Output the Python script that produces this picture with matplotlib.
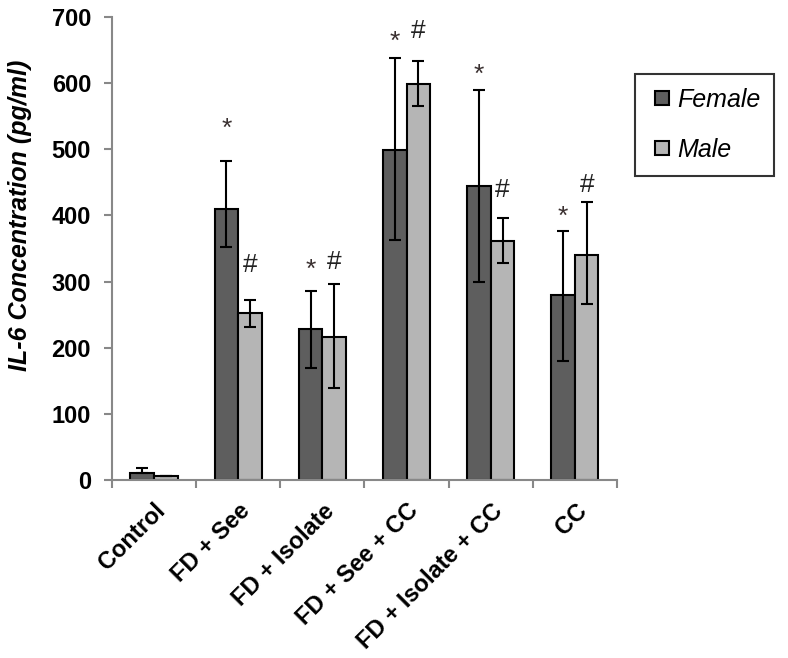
import numpy as np
from matplotlib import pyplot as plt
from matplotlib.lines import Line2D

plt.rcParams['font.family'] = ['Liberation Sans', 'DejaVu Sans']

groups = ['Control', 'FD + See', 'FD + Isolate', 'FD + See + CC', 'FD + Isolate + CC', 'CC']
female = [10, 410, 228, 499, 444, 280]
female_lo = [0, 58, 59, 136, 145, 100]
female_hi = [8, 72, 58, 139, 146, 97]
male = [6, 252, 217, 599, 362, 340]
male_lo = [0, 21, 78, 34, 34, 74]
male_hi = [0, 20, 79, 35, 34, 80]

# significance marks and the height of their centre
female_mark = ['', '*', '*', '*', '*', '*']
female_mark_y = [0, 543, 330, 675, 625, 411]
male_mark = ['', '#', '#', '#', '#', '#']
male_mark_y = [0, 328, 333, 683, 442, 450]

female_color = '#5e5e5e'
male_color = '#b5b5b5'

fig = plt.figure(figsize=(7.88, 6.58), dpi=100)
ax = fig.add_axes([0.142, 0.2705, 0.641, 0.7035])

x = np.arange(len(groups))
w = 0.28
err_kw = dict(ecolor='black', elinewidth=1.5, capsize=4.5, capthick=1.5)
ax.bar(x - 0.14, female, w, color=female_color, edgecolor='black', linewidth=1.5,
       yerr=[female_lo, female_hi], error_kw=err_kw)
ax.bar(x + 0.14, male, w, color=male_color, edgecolor='black', linewidth=1.5,
       yerr=[male_lo, male_hi], error_kw=err_kw)

fs_mark = 19
for i in range(len(groups)):
    if female_mark[i]:
        ax.annotate(female_mark[i], (x[i] - 0.14, female_mark_y[i]),
                    xytext=(0, -0.58 * fs_mark), textcoords='offset points',
                    ha='center', va='baseline', fontsize=fs_mark, color='#3a3030')
    if male_mark[i]:
        ax.annotate(male_mark[i], (x[i] + 0.14, male_mark_y[i]),
                    xytext=(0, -0.35 * fs_mark), textcoords='offset points',
                    ha='center', va='baseline', fontsize=fs_mark, color='#222222')

ax.set_xlim(-0.5, len(groups) - 0.5)
ax.set_ylim(0, 700)
ax.set_yticks(range(0, 701, 100))
ax.set_xticks(x)
ax.set_xticklabels(groups, rotation=45, ha='right', rotation_mode='anchor',
                   fontsize=17, fontweight='bold')
ax.set_xticks(np.arange(-0.5, len(groups)), minor=True)
ax.tick_params(axis='x', which='major', length=0, pad=14)
ax.tick_params(axis='x', which='minor', length=6, color='#888888', width=1.5)
ax.tick_params(axis='y', length=6, color='#888888', width=1.5, labelsize=17, pad=9)
for lab in ax.get_yticklabels():
    lab.set_fontweight('bold')

for s in ['top', 'right']:
    ax.spines[s].set_visible(False)
for s in ['left', 'bottom']:
    ax.spines[s].set_color('#888888')
    ax.spines[s].set_linewidth(1.5)

ax.set_ylabel('IL-6 Concentration (pg/ml)', fontsize=18, fontweight='bold',
              fontstyle='italic')
ax.yaxis.set_label_coords(-0.158, 0.572)

handles = [Line2D([], [], linestyle='none', marker='s', markersize=10.5,
                  markerfacecolor=c, markeredgecolor='black', markeredgewidth=1.5)
           for c in (female_color, male_color)]
leg = fig.legend(handles, ['Female', 'Male'], loc='upper left',
                 bbox_to_anchor=(635 / 788, 1 - 74 / 658),
                 prop={'style': 'italic', 'size': 18},
                 frameon=True, fancybox=False, edgecolor='black',
                 handlelength=1.08, handletextpad=0.05,
                 borderpad=0.55, labelspacing=1.05, borderaxespad=0)
leg.get_frame().set_linewidth(1.5)

fig.savefig('out.png', dpi=100)
